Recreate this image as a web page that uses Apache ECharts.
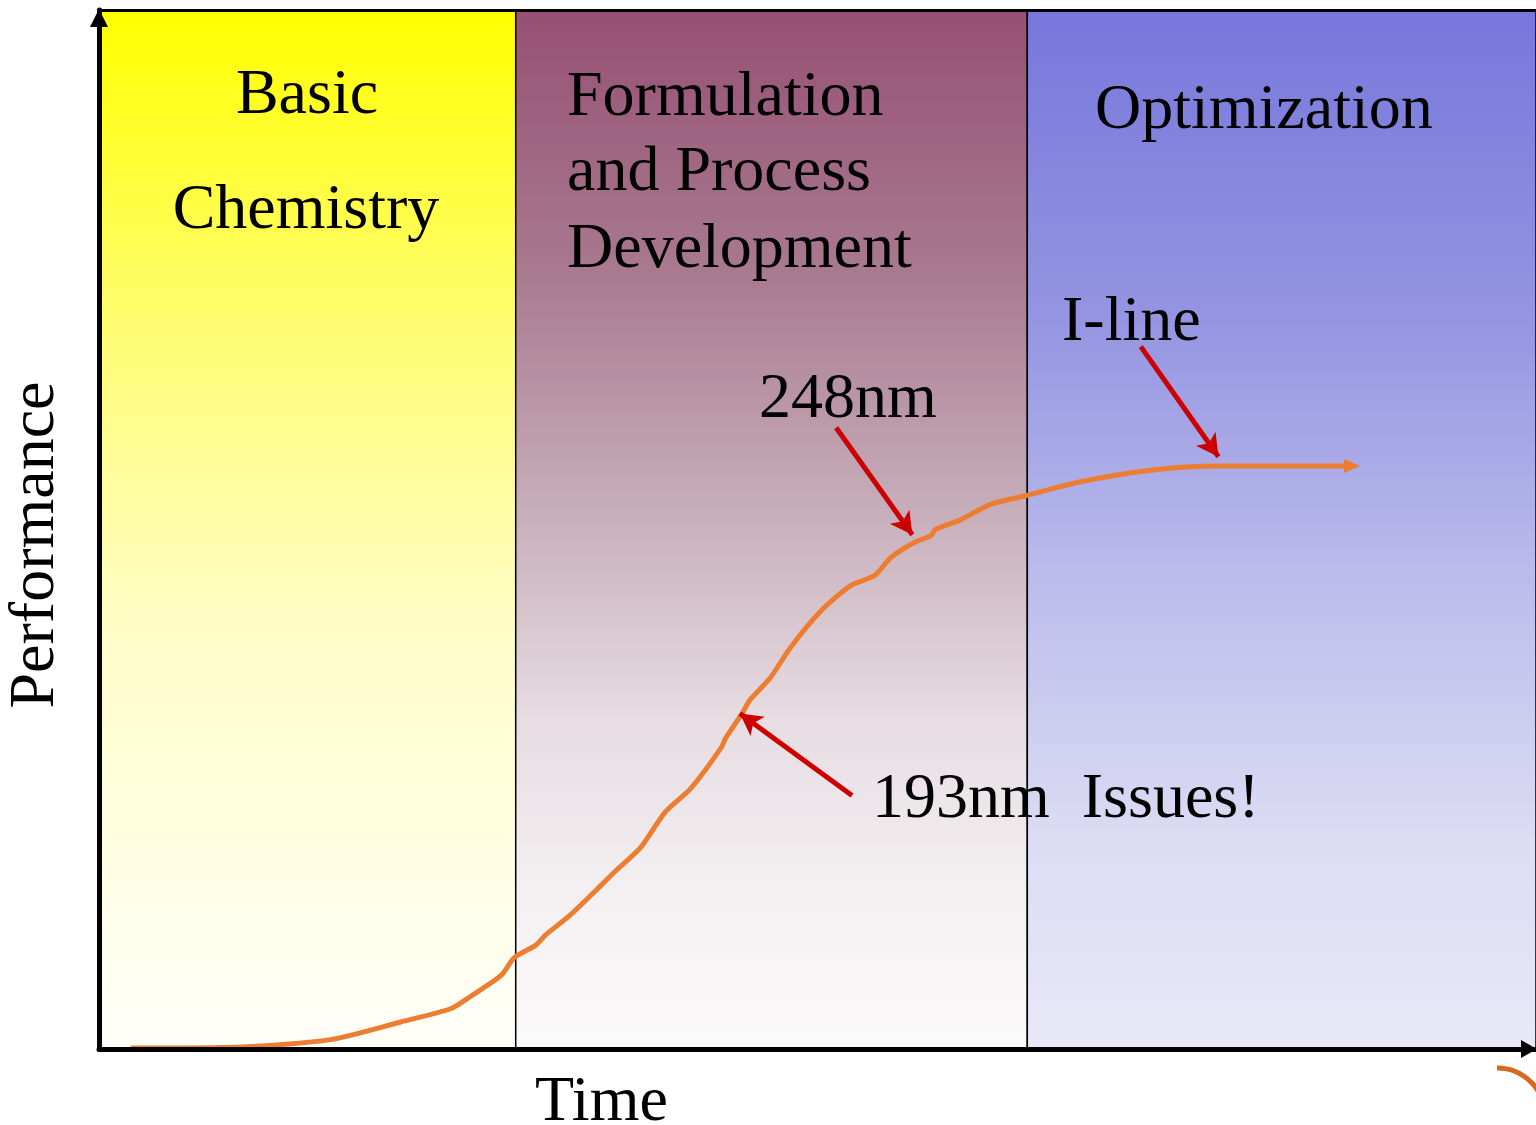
<!DOCTYPE html>
<html>
<head>
<meta charset="utf-8">
<script src="https://cdn.jsdelivr.net/npm/echarts@6/dist/echarts.min.js"></script>
<style>
html,body{margin:0;padding:0;background:#fff;}
#chart{width:1536px;height:1125px;}
</style>
</head>
<body>
<div id="chart"></div>
<script>
// ---- data (time units 0-100, performance units 0-100) ----
const timeValues = [2.2, 9.9, 16.1, 21.0, 24.5, 25.9, 28.0, 28.9, 30.4, 31.1, 32.8, 34.9, 36.0, 37.7, 39.4, 41.2, 43.3, 43.6, 44.8, 45.3, 46.7, 48.1, 50.2, 52.3, 54.0, 55.1, 56.8, 57.9, 58.2, 59.9, 62.0, 64.6, 68.3, 73.2, 78.0, 83.6, 87.0];
const performanceValues = [0.1, 0.2, 0.9, 2.6, 3.9, 5.1, 7.1, 8.8, 10.0, 11.0, 12.9, 15.7, 17.2, 19.4, 22.8, 25.1, 29.0, 29.9, 32.4, 33.6, 35.7, 38.6, 42.1, 44.6, 45.6, 47.3, 48.8, 49.4, 50.0, 50.9, 52.4, 53.3, 54.6, 55.7, 56.1, 56.1, 56.1];
const phaseNames = ['Basic\nChemistry', 'Formulation\nand Process\nDevelopment', 'Optimization'];
const phaseBounds = [0, 29.0, 64.6, 100];
const annotations = [
  { text: '248nm', from: [51.3, 59.8], to: [56.6, 49.5] },
  { text: 'I-line', from: [72.5, 67.6], to: [77.9, 57.0] },
  { text: '193nm  Issues!', from: [52.4, 24.4], to: [44.6, 32.3] }
];
const axisNames = { x: 'Time', y: 'Performance' };

const phaseGradients = [
  [[0, '#ffff00'], [0.3, '#fffc70'], [0.6, '#fffdc8'], [1, '#fffffa']],
  [[0, '#965073'], [0.25, '#a8798f'], [0.47, '#c6abb8'], [0.68, '#e6dce1'], [0.85, '#f4f0f2'], [1, '#fbfafa']],
  [[0, '#7777dc'], [0.3, '#9595e2'], [0.55, '#bcbcec'], [0.8, '#dcdcf4'], [1, '#e8e8f8']]
];

const chart = echarts.init(document.getElementById('chart'), null, { renderer: 'canvas' });

const lineData = timeValues.map((t, i) => [t, performanceValues[i]]);
const lastPt = lineData[lineData.length - 1];

const markAreaData = phaseNames.map((n, i) => [
  {
    xAxis: phaseBounds[i],
    itemStyle: {
      color: {
        type: 'linear', x: 0, y: 0, x2: 0, y2: 1,
        colorStops: phaseGradients[i].map(s => ({ offset: s[0], color: s[1] }))
      }
    }
  },
  { xAxis: phaseBounds[i + 1] }
]);

const arrowLines = annotations.map(a => [
  { coord: a.from, symbol: 'none' },
  { coord: a.to, symbol: 'arrow', symbolSize: [18, 22] }
]);

const FONT = '"Liberation Serif", "DejaVu Serif", serif';
const txt = (text, x, y, align, extra) => Object.assign({
  type: 'text', x: x, y: y, z: 100,
  style: { text: text, fill: '#000', font: '64px ' + FONT, align: align, verticalAlign: 'middle' }
}, extra || {});

const axisCommon = {
  type: 'value', min: 0, max: 100, z: 20,
  axisTick: { show: false }, axisLabel: { show: false }, splitLine: { show: false }
};

const option = {
  animation: false,
  backgroundColor: '#ffffff',
  grid: { left: 99, right: 0, top: 10, bottom: 76, containLabel: false },
  xAxis: Object.assign({}, axisCommon, {
    axisLine: { show: true, lineStyle: { color: '#000', width: 5 }, symbol: ['none', 'triangle'], symbolSize: [18, 16], symbolOffset: [0, -7] }
  }),
  yAxis: Object.assign({}, axisCommon, {
    axisLine: { show: true, lineStyle: { color: '#000', width: 5 }, symbol: ['none', 'triangle'], symbolSize: [18, 18], symbolOffset: [0, -8] }
  }),
  series: [
    {
      type: 'line',
      data: lineData,
      smooth: 0.25,
      showSymbol: false,
      symbol: 'none',
      lineStyle: { color: '#ed7d31', width: 5 },
      z: 3,
      markArea: {
        silent: true,
        itemStyle: { borderColor: '#000', borderWidth: 1.5 },
        data: markAreaData
      },
      markLine: {
        silent: true,
        symbol: ['none', 'none'],
        label: { show: false },
        lineStyle: { color: '#000', width: 3, type: 'solid' },
        data: [
          [{ coord: [0, 100] }, { coord: [100, 100] }],
          [
            { coord: lastPt, symbol: 'none', lineStyle: { color: '#ed7d31', width: 5, type: 'solid' } },
            { coord: [lastPt[0] + 0.2, lastPt[1]], symbol: 'triangle', symbolSize: [14, 16] }
          ]
        ]
      }
    },
    {
      type: 'line',
      data: [],
      z: 5,
      markLine: {
        silent: true,
        label: { show: false },
        symbol: ['none', 'arrow'],
        lineStyle: { color: '#cc0000', width: 5, type: 'solid' },
        data: arrowLines
      }
    }
  ],
  graphic: [
    txt('Basic', 307, 96, 'center'),
    txt('Chemistry', 306, 211, 'center'),
    txt('Formulation', 567, 98, 'left'),
    txt('and Process', 567, 173, 'left'),
    txt('Development', 567, 250, 'left'),
    txt(phaseNames[2], 1095, 111, 'left'),
    txt(annotations[1].text, 1062, 323, 'left'),
    txt(annotations[0].text, 759, 400, 'left'),
    txt(annotations[2].text, 872, 800, 'left'),
    txt(axisNames.x, 535, 1103, 'left'),
    txt(axisNames.y, 36, 545, 'center', { rotation: Math.PI / 2 }),
    {
      type: 'arc', z: 100,
      shape: { cx: 1497, cy: 1116, r: 48, startAngle: -Math.PI / 2, endAngle: 0, clockwise: true },
      style: { stroke: '#d4691f', lineWidth: 5, fill: null }
    }
  ]
};
chart.setOption(option);
</script>
</body>
</html>
